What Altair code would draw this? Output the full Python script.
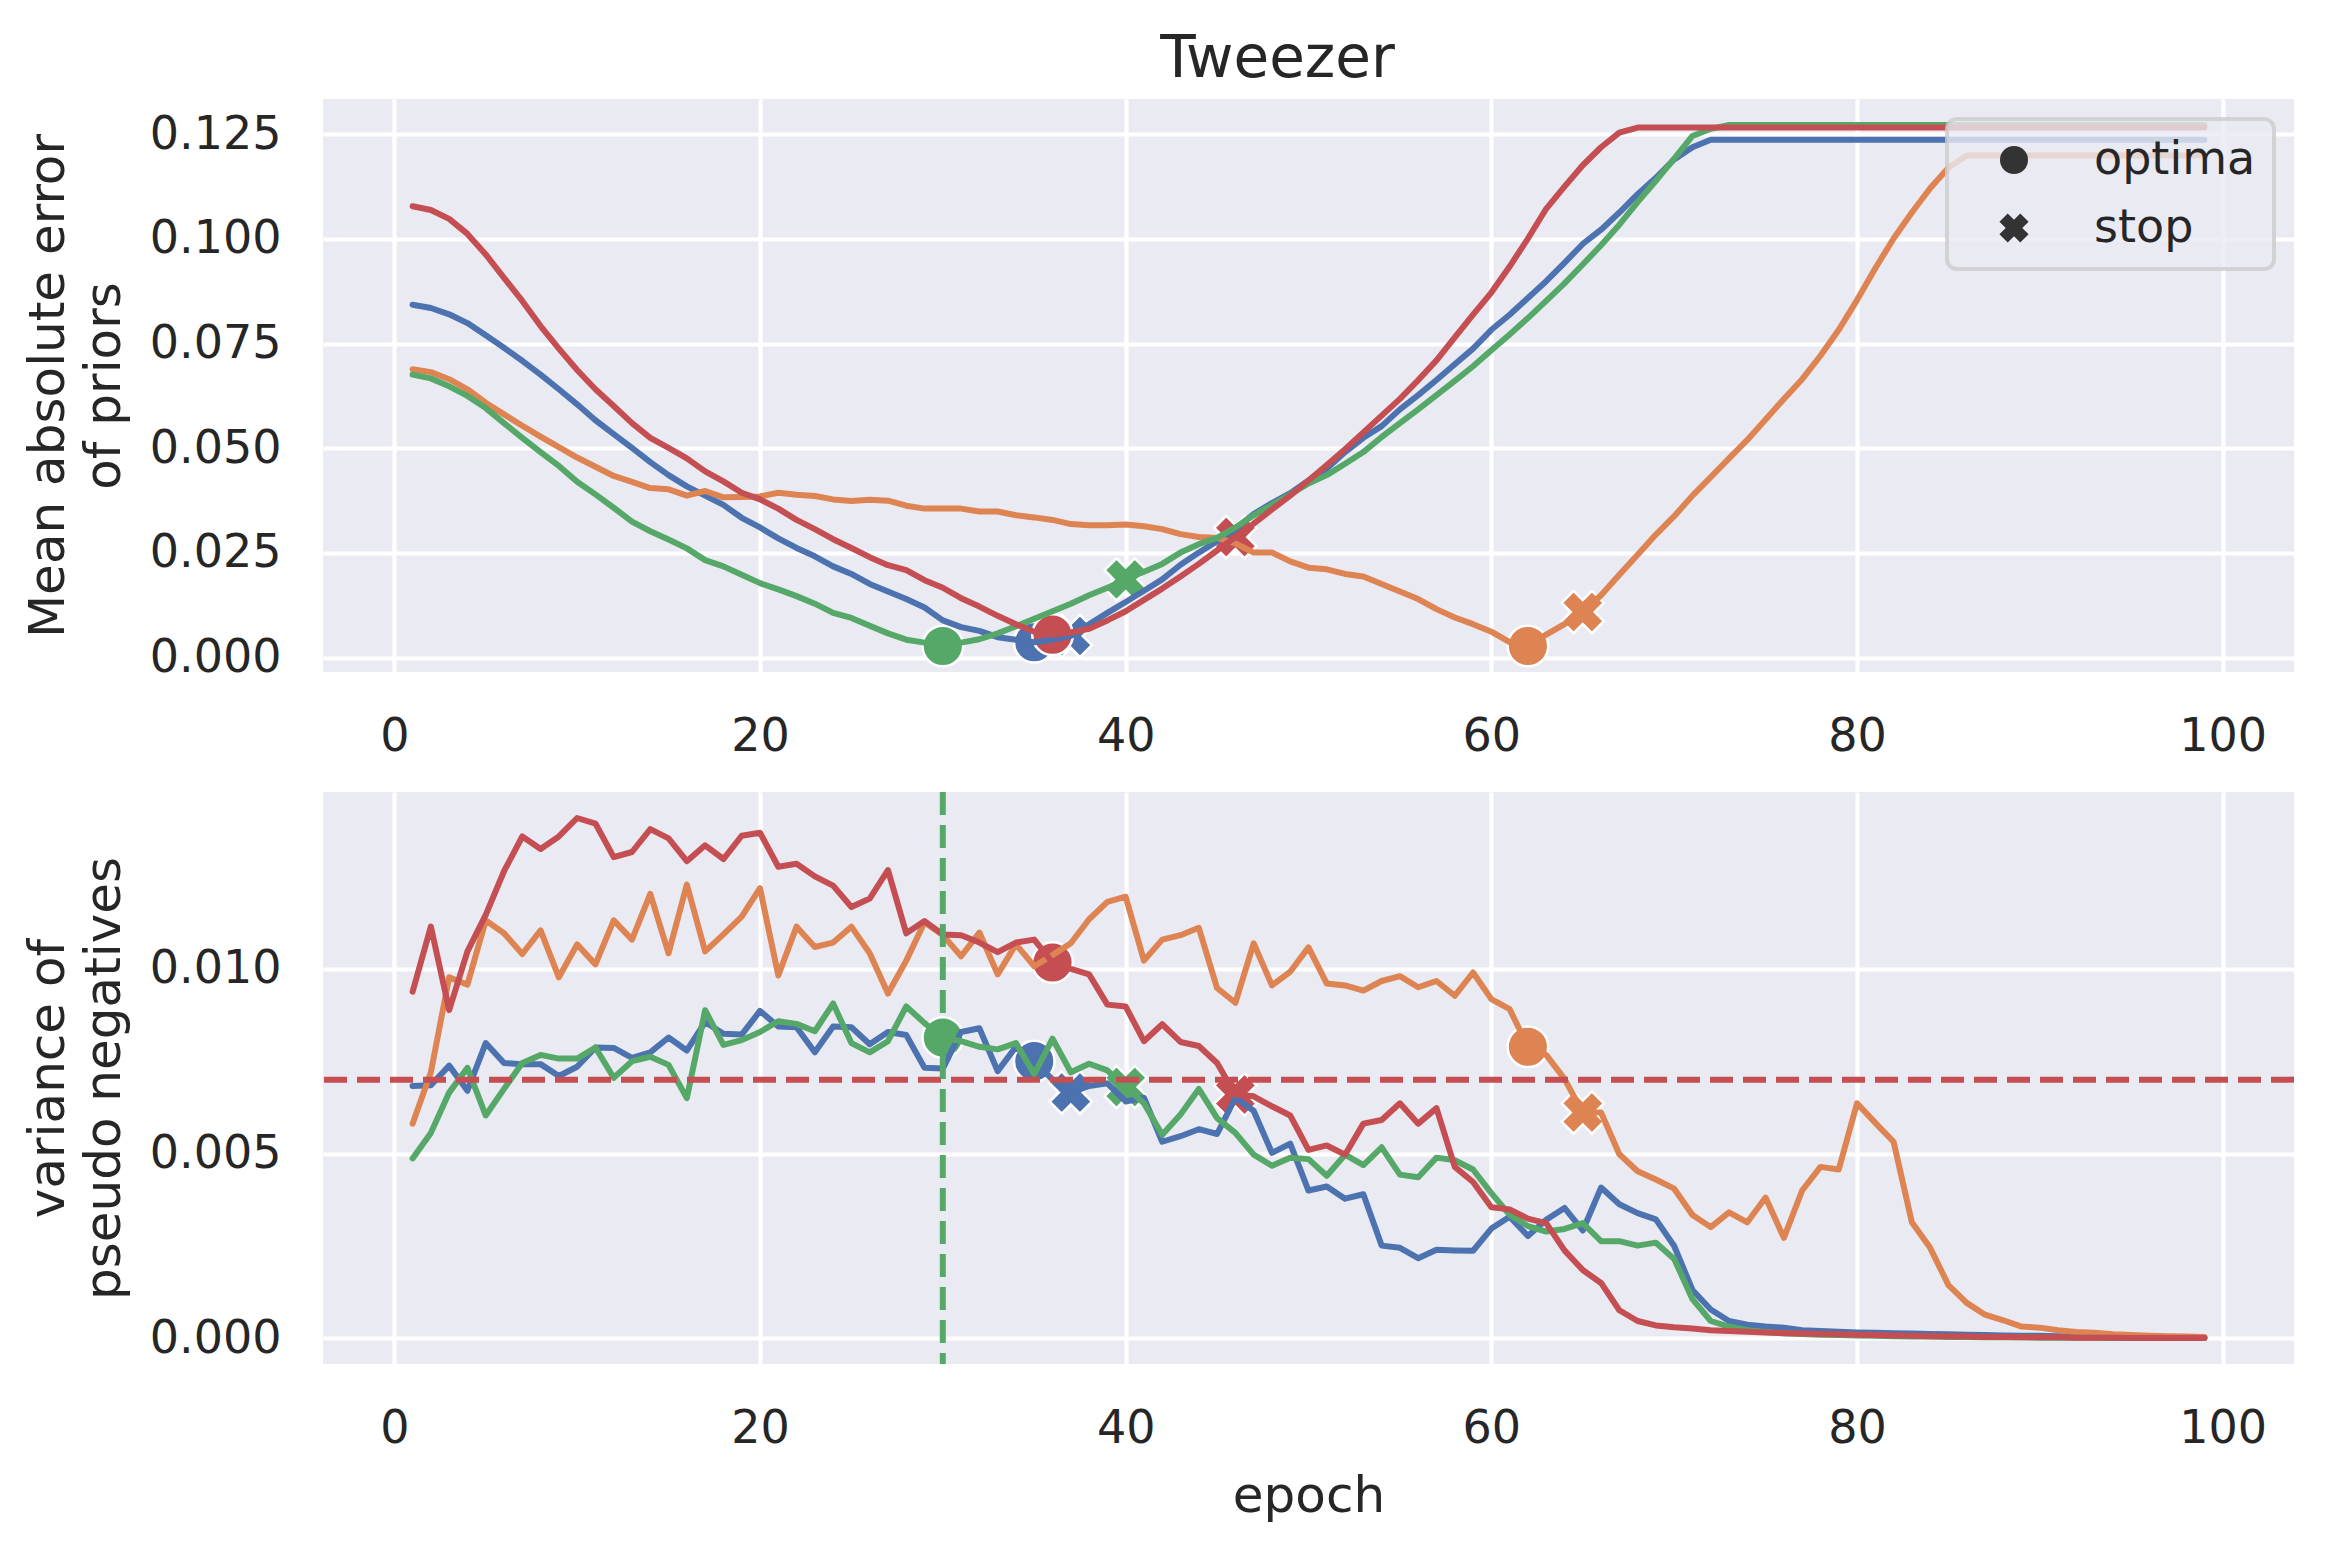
import altair as alt
import pandas as pd

# ---------------- data ----------------
epochs = list(range(1, 100))
series_names = ["run 1", "run 2", "run 3", "run 4"]
series_colors = ["#4C72B0", "#DD8452", "#55A868", "#C44E52"]

# Mean absolute error of priors (top panel)
mae_1 = [0.0843, 0.0835, 0.0820, 0.0799, 0.0770, 0.0740, 0.0709, 0.0676, 0.0641, 0.0605,
         0.0567, 0.0534, 0.0501, 0.0467, 0.0436, 0.0409, 0.0387, 0.0365, 0.0334, 0.0311,
         0.0285, 0.0262, 0.0242, 0.0218, 0.0200, 0.0176, 0.0158, 0.0140, 0.0120, 0.0089,
         0.0073, 0.0064, 0.0049, 0.0043, 0.0037, 0.0043, 0.0052, 0.0080, 0.0107, 0.0133,
         0.0160, 0.0187, 0.0222, 0.0251, 0.0278, 0.0307, 0.0343, 0.0369, 0.0393, 0.0423,
         0.0452, 0.0491, 0.0525, 0.0553, 0.0593, 0.0627, 0.0663, 0.0701, 0.0738, 0.0783,
         0.0819, 0.0859, 0.0899, 0.0943, 0.0988, 0.1022, 0.1063, 0.1107, 0.1146, 0.1190,
         0.1219, 0.1237, 0.1237, 0.1237, 0.1237, 0.1237, 0.1237, 0.1237, 0.1237, 0.1237,
         0.1237, 0.1237, 0.1237, 0.1237, 0.1237, 0.1237, 0.1237, 0.1237, 0.1237, 0.1237,
         0.1237, 0.1237, 0.1237, 0.1237, 0.1237, 0.1237, 0.1237, 0.1237, 0.1237]
mae_2 = [0.0689, 0.0682, 0.0665, 0.0641, 0.0609, 0.0581, 0.0554, 0.0528, 0.0503, 0.0478,
         0.0456, 0.0434, 0.0420, 0.0405, 0.0402, 0.0387, 0.0398, 0.0383, 0.0384, 0.0385,
         0.0394, 0.0389, 0.0386, 0.0378, 0.0374, 0.0377, 0.0375, 0.0363, 0.0356, 0.0356,
         0.0356, 0.0349, 0.0349, 0.0340, 0.0335, 0.0329, 0.0319, 0.0316, 0.0316, 0.0318,
         0.0314, 0.0307, 0.0295, 0.0288, 0.0286, 0.0273, 0.0251, 0.0251, 0.0230, 0.0215,
         0.0211, 0.0200, 0.0194, 0.0176, 0.0158, 0.0140, 0.0116, 0.0096, 0.0080, 0.0062,
         0.0037, 0.0028, 0.0055, 0.0080, 0.0109, 0.0149, 0.0198, 0.0246, 0.0294, 0.0338,
         0.0387, 0.0431, 0.0476, 0.0520, 0.0569, 0.0618, 0.0665, 0.0721, 0.0783, 0.0854,
         0.0930, 0.1001, 0.1063, 0.1121, 0.1170, 0.1199, 0.1199, 0.1199, 0.1199, 0.1199,
         0.1199, 0.1199, 0.1199, 0.1199, 0.1199, 0.1199, 0.1199, 0.1199, 0.1199]
mae_3 = [0.0676, 0.0667, 0.0648, 0.0625, 0.0596, 0.0560, 0.0525, 0.0491, 0.0458, 0.0420,
         0.0390, 0.0358, 0.0325, 0.0302, 0.0282, 0.0261, 0.0233, 0.0218, 0.0198, 0.0178,
         0.0163, 0.0147, 0.0129, 0.0107, 0.0095, 0.0076, 0.0058, 0.0043, 0.0036, 0.0028,
         0.0036, 0.0044, 0.0058, 0.0075, 0.0093, 0.0111, 0.0129, 0.0149, 0.0167, 0.0187,
         0.0205, 0.0224, 0.0251, 0.0271, 0.0286, 0.0311, 0.0340, 0.0365, 0.0390, 0.0416,
         0.0436, 0.0463, 0.0491, 0.0527, 0.0560, 0.0593, 0.0627, 0.0661, 0.0696, 0.0734,
         0.0772, 0.0811, 0.0852, 0.0894, 0.0939, 0.0985, 0.1034, 0.1088, 0.1139, 0.1192,
         0.1246, 0.1263, 0.1272, 0.1272, 0.1272, 0.1272, 0.1272, 0.1272, 0.1272, 0.1272,
         0.1272, 0.1272, 0.1272, 0.1272, 0.1272, 0.1272, 0.1272, 0.1272, 0.1272, 0.1272,
         0.1272, 0.1272, 0.1272, 0.1272, 0.1272, 0.1272, 0.1272, 0.1272, 0.1272]
mae_4 = [0.1078, 0.1069, 0.1048, 0.1012, 0.0963, 0.0907, 0.0852, 0.0792, 0.0738, 0.0687,
         0.0641, 0.0601, 0.0560, 0.0525, 0.0501, 0.0476, 0.0445, 0.0421, 0.0394, 0.0378,
         0.0356, 0.0329, 0.0307, 0.0283, 0.0262, 0.0240, 0.0221, 0.0209, 0.0185, 0.0167,
         0.0142, 0.0122, 0.0100, 0.0080, 0.0062, 0.0055, 0.0060, 0.0069, 0.0089, 0.0111,
         0.0138, 0.0165, 0.0194, 0.0224, 0.0256, 0.0288, 0.0320, 0.0354, 0.0387, 0.0423,
         0.0460, 0.0498, 0.0538, 0.0578, 0.0618, 0.0663, 0.0710, 0.0765, 0.0819, 0.0872,
         0.0934, 0.1001, 0.1072, 0.1125, 0.1176, 0.1219, 0.1254, 0.1266, 0.1266, 0.1266,
         0.1266, 0.1266, 0.1266, 0.1266, 0.1266, 0.1266, 0.1266, 0.1266, 0.1266, 0.1266,
         0.1266, 0.1266, 0.1266, 0.1266, 0.1266, 0.1266, 0.1266, 0.1266, 0.1266, 0.1266,
         0.1266, 0.1266, 0.1266, 0.1266, 0.1266, 0.1266, 0.1266, 0.1266, 0.1266]

# Variance of pseudo negatives (bottom panel)
var_1 = [0.00683, 0.00685, 0.00738, 0.00670, 0.00799, 0.00745, 0.00742, 0.00742, 0.00710, 0.00735,
         0.00787, 0.00786, 0.00759, 0.00774, 0.00814, 0.00779, 0.00856, 0.00824, 0.00822, 0.00886,
         0.00844, 0.00842, 0.00774, 0.00844, 0.00842, 0.00796, 0.00829, 0.00821, 0.00732, 0.00730,
         0.00829, 0.00839, 0.00723, 0.00789, 0.00750, 0.00700, 0.00665, 0.00683, 0.00690, 0.00641,
         0.00651, 0.00532, 0.00547, 0.00566, 0.00553, 0.00651, 0.00616, 0.00502, 0.00527, 0.00400,
         0.00411, 0.00378, 0.00390, 0.00251, 0.00245, 0.00217, 0.00240, 0.00238, 0.00237, 0.00297,
         0.00329, 0.00277, 0.00321, 0.00353, 0.00292, 0.00408, 0.00363, 0.00339, 0.00322, 0.00250,
         0.00131, 0.00078, 0.00047, 0.00037, 0.00032, 0.00029, 0.00022, 0.00020, 0.00018, 0.00016,
         0.00015, 0.00014, 0.00013, 0.00012, 0.00011, 0.00010, 0.00009, 0.00008, 0.00007, 0.00007,
         0.00006, 0.00005, 0.00005, 0.00004, 0.00004, 0.00003, 0.00003, 0.00002, 0.00002]
var_2 = [0.00581, 0.00720, 0.00977, 0.00957, 0.01131, 0.01096, 0.01040, 0.01104, 0.00977, 0.01066,
         0.01012, 0.01131, 0.01079, 0.01203, 0.01042, 0.01228, 0.01047, 0.01093, 0.01141, 0.01218,
         0.00982, 0.01114, 0.01059, 0.01071, 0.01114, 0.01042, 0.00933, 0.01022, 0.01126, 0.01091,
         0.01034, 0.01098, 0.00985, 0.01066, 0.01007, 0.01037, 0.01069, 0.01134, 0.01181, 0.01195,
         0.01022, 0.01079, 0.01091, 0.01111, 0.00948, 0.00908, 0.01069, 0.00955, 0.00992, 0.01058,
         0.00960, 0.00955, 0.00941, 0.00967, 0.00980, 0.00950, 0.00967, 0.00927, 0.00990, 0.00918,
         0.00891, 0.00789, 0.00767, 0.00702, 0.00611, 0.00611, 0.00498, 0.00452, 0.00430, 0.00405,
         0.00334, 0.00301, 0.00341, 0.00314, 0.00381, 0.00272, 0.00400, 0.00464, 0.00457, 0.00636,
         0.00583, 0.00532, 0.00314, 0.00245, 0.00144, 0.00096, 0.00064, 0.00049, 0.00032, 0.00029,
         0.00022, 0.00017, 0.00015, 0.00011, 0.00009, 0.00007, 0.00006, 0.00005, 0.00004]
var_3 = [0.00487, 0.00556, 0.00665, 0.00732, 0.00603, 0.00675, 0.00745, 0.00767, 0.00757, 0.00757,
         0.00787, 0.00705, 0.00750, 0.00762, 0.00740, 0.00650, 0.00888, 0.00794, 0.00807, 0.00829,
         0.00858, 0.00851, 0.00831, 0.00906, 0.00799, 0.00774, 0.00804, 0.00898, 0.00853, 0.00814,
         0.00804, 0.00789, 0.00782, 0.00799, 0.00715, 0.00811, 0.00720, 0.00743, 0.00725, 0.00680,
         0.00636, 0.00551, 0.00606, 0.00675, 0.00596, 0.00556, 0.00497, 0.00467, 0.00489, 0.00485,
         0.00440, 0.00497, 0.00469, 0.00517, 0.00443, 0.00436, 0.00489, 0.00482, 0.00457, 0.00393,
         0.00334, 0.00304, 0.00289, 0.00296, 0.00312, 0.00263, 0.00263, 0.00251, 0.00259, 0.00215,
         0.00106, 0.00047, 0.00032, 0.00022, 0.00017, 0.00014, 0.00012, 0.00010, 0.00009, 0.00008,
         0.00007, 0.00006, 0.00005, 0.00005, 0.00004, 0.00004, 0.00003, 0.00003, 0.00003, 0.00002,
         0.00002, 0.00002, 0.00002, 0.00001, 0.00001, 0.00001, 0.00001, 0.00001, 0.00001]
var_4 = [0.00938, 0.01114, 0.00888, 0.01047, 0.01146, 0.01264, 0.01358, 0.01324, 0.01358, 0.01408,
         0.01393, 0.01302, 0.01316, 0.01378, 0.01353, 0.01291, 0.01334, 0.01297, 0.01360, 0.01368,
         0.01276, 0.01284, 0.01250, 0.01225, 0.01167, 0.01190, 0.01267, 0.01096, 0.01129, 0.01093,
         0.01091, 0.01071, 0.01045, 0.01071, 0.01079, 0.01017, 0.01000, 0.00985, 0.00903, 0.00898,
         0.00804, 0.00850, 0.00802, 0.00791, 0.00745, 0.00660, 0.00655, 0.00628, 0.00603, 0.00510,
         0.00522, 0.00497, 0.00581, 0.00591, 0.00636, 0.00581, 0.00623, 0.00464, 0.00423, 0.00355,
         0.00349, 0.00324, 0.00312, 0.00238, 0.00185, 0.00150, 0.00076, 0.00047, 0.00035, 0.00030,
         0.00027, 0.00022, 0.00020, 0.00018, 0.00016, 0.00014, 0.00013, 0.00012, 0.00011, 0.00010,
         0.00009, 0.00008, 0.00007, 0.00006, 0.00006, 0.00005, 0.00004, 0.00004, 0.00003, 0.00003,
         0.00003, 0.00002, 0.00002, 0.00002, 0.00001, 0.00001, 0.00001, 0.00001, 0.00001]

optima_epochs = [35, 62, 30, 36]
stop_epochs = [37, 65, 40, 46]
var_threshold = 0.007
chosen_epoch = 30

x_ticks = [0, 20, 40, 60, 80, 100]
mae_ticks = [0.0, 0.025, 0.05, 0.075, 0.1, 0.125]
var_ticks = [0.0, 0.005, 0.010]
marker_kinds = ["optima", "stop"]

FONT = "DejaVu Sans"
TEXT = "#262626"
X_PATH = ("M-0.45,-1.04 L-1.04,-0.45 L-0.59,0 L-1.04,0.45 L-0.45,1.04 L0,0.59 "
          "L0.45,1.04 L1.04,0.45 L0.59,0 L1.04,-0.45 L0.45,-1.04 L0,-0.59 Z")

mae_all = [mae_1, mae_2, mae_3, mae_4]
var_all = [var_1, var_2, var_3, var_4]


def margin_domain(lo, hi, frac=0.05):
    r = hi - lo
    return [lo - frac * r, hi + frac * r]


x_domain = margin_domain(min(epochs), max(epochs))
x_scale = alt.Scale(domain=x_domain, nice=False, zero=False)


def panel(values_all, y_title, y_ticks, show_legend, x_title, extra=()):
    lo = min(min(v) for v in values_all)
    hi = max(max(v) for v in values_all)
    y_scale = alt.Scale(domain=margin_domain(lo, hi), nice=False, zero=False)
    x_axis = alt.Axis(values=x_ticks, title=x_title, format="d")
    y_axis = alt.Axis(values=y_ticks, title=y_title, format=".3f")

    layers = []

    # markers first (drawn beneath the lines, as in the reference)
    rows = []
    for name, vals, oe, se in zip(series_names, values_all, optima_epochs, stop_epochs):
        rows.append({"epoch": oe, "value": vals[oe - 1], "series": name, "kind": "optima"})
        rows.append({"epoch": se, "value": vals[se - 1], "series": name, "kind": "stop"})
    mk = pd.DataFrame(rows)

    if show_legend:
        legend = alt.Legend(title=None, orient="top-right")
    else:
        legend = None
    layers.append(
        alt.Chart(mk).mark_point(filled=True, size=1650, stroke="white", strokeWidth=2.5,
                                 opacity=1).encode(
            x=alt.X("epoch:Q", scale=x_scale, axis=x_axis),
            y=alt.Y("value:Q", scale=y_scale, axis=y_axis),
            color=alt.Color("series:N", scale=alt.Scale(domain=series_names, range=series_colors),
                            legend=None),
            shape=alt.Shape("kind:N", scale=alt.Scale(domain=marker_kinds, range=["circle", X_PATH]),
                            legend=legend),
        )
    )

    for name, color, vals in zip(series_names, series_colors, values_all):
        df = pd.DataFrame({"epoch": epochs, "value": vals, "series": name})
        layers.append(
            alt.Chart(df).mark_line(color=color, strokeWidth=6, strokeCap="round",
                                    strokeJoin="round").encode(
                x=alt.X("epoch:Q", scale=x_scale, axis=x_axis),
                y=alt.Y("value:Q", scale=y_scale, axis=y_axis),
            )
        )

    for e in extra:
        layers.append(e(x_scale, y_scale, x_axis, y_axis))
    return alt.layer(*layers)


def hrule(x_scale, y_scale, x_axis, y_axis):
    return alt.Chart(pd.DataFrame({"value": [var_threshold]})).mark_rule(
        color="#C44E52", strokeWidth=6, strokeDash=[23, 10]).encode(
        y=alt.Y("value:Q", scale=y_scale, axis=y_axis))


def vrule(x_scale, y_scale, x_axis, y_axis):
    return alt.Chart(pd.DataFrame({"epoch": [chosen_epoch]})).mark_rule(
        color="#55A868", strokeWidth=6, strokeDash=[23, 10]).encode(
        x=alt.X("epoch:Q", scale=x_scale, axis=x_axis))


top = panel(mae_all, ["Mean absolute error", "of priors"], mae_ticks, True, None).properties(
    width=1971, height=573,
    title=alt.TitleParams("Tweezer", fontSize=58, font=FONT, fontWeight="normal", color=TEXT,
                          anchor="middle", frame="group", offset=10, dx=-31),
)
bottom = panel(var_all, ["variance of", "pseudo negatives"], var_ticks, False, "epoch",
               extra=(hrule, vrule)).properties(width=1971, height=572)

chart = alt.vconcat(top, bottom, spacing=30).properties(
    padding={"left": 15, "top": 23, "right": 5, "bottom": 5},
    background="white",
).configure_view(
    fill="#EAEAF2", strokeWidth=0,
).configure_axis(
    domain=False, ticks=False, tickSize=0, grid=True, gridColor="white", gridWidth=4.2,
    labelFont=FONT, labelFontSize=46, labelColor=TEXT, labelPadding=42,
    titleFont=FONT, titleFontSize=50, titleFontWeight="normal", titleColor=TEXT,
    titlePadding=20, titleLineHeight=56,
).configure_legend(
    fillColor="rgba(234,234,242,0.8)", strokeColor="rgba(204,204,204,0.8)", strokeWidth=4,
    cornerRadius=10, padding=18, offset=20, labelFont=FONT, labelFontSize=46, labelColor=TEXT,
    labelLimit=600, symbolSize=784, symbolFillColor="#333333", symbolStrokeWidth=0,
    rowPadding=22, labelOffset=57, symbolOffset=26,
)

chart.save("out.html", embed_options={"renderer": "svg", "actions": False})
